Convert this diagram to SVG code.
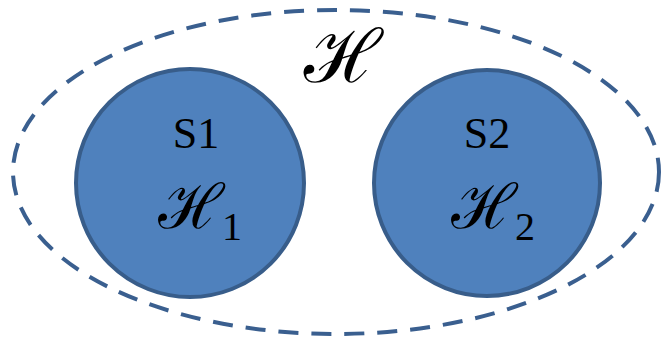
<svg xmlns="http://www.w3.org/2000/svg" width="663" height="347" viewBox="0 0 663 347">
<style>
.sys{fill:#4f81bd;stroke:#385d8a;stroke-width:4}
.lbl{font-family:"Liberation Serif","DejaVu Serif",serif;font-size:44px;fill:#000;text-anchor:middle}
.sub{font-family:"Liberation Serif","DejaVu Serif",serif;font-size:40px;fill:#000}
.scr{font-family:"DejaVu Serif","Noto Sans",serif;fill:#000}
</style>
<g id="connectors"></g>
<g id="H">
<ellipse cx="336" cy="172" rx="323" ry="162" fill="none" stroke="#3a5f8f" stroke-width="4" stroke-dasharray="20 13"/>
<text class="scr" x="343" y="82" font-size="74" text-anchor="middle">ℋ</text>
</g>
<g id="S1">
<circle class="sys" cx="190" cy="183" r="114"/>
<text class="lbl" x="196" y="148">S1</text>
<text class="scr" x="191" y="228" font-size="62" text-anchor="middle">ℋ</text>
<text class="sub" x="222" y="240">1</text>
</g>
<g id="S2">
<circle class="sys" cx="487" cy="183" r="113"/>
<text class="lbl" x="487" y="148">S2</text>
<text class="scr" x="484" y="228" font-size="62" text-anchor="middle">ℋ</text>
<text class="sub" x="515" y="240">2</text>
</g>
</svg>
